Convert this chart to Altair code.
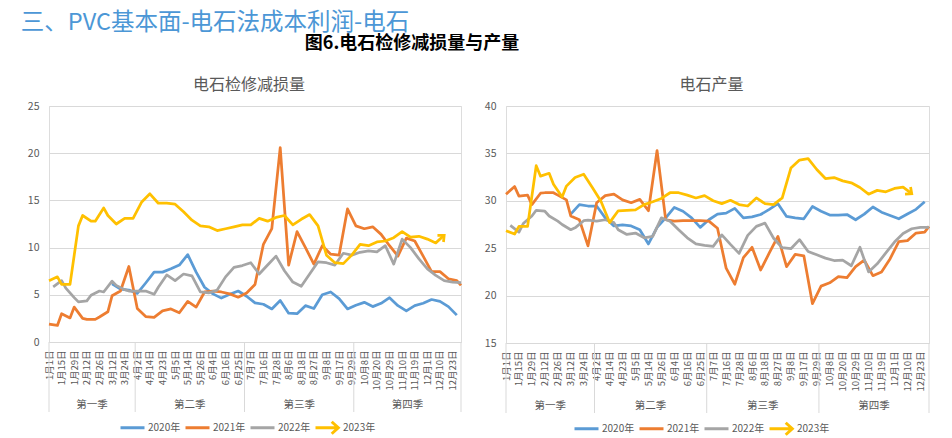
import altair as alt
import pandas as pd

# ---------------- data ----------------
DATE_LABELS = ["1月1日", "1月15日", "1月29日", "2月12日", "2月26日", "3月12日", "3月24日",
               "4月2日", "4月14日", "4月23日", "5月5日", "5月14日", "5月26日", "6月4日", "6月16日", "6月25日",
               "7月7日", "7月16日", "7月28日", "8月6日", "8月18日", "8月27日", "9月8日", "9月17日", "9月29日",
               "10月8日", "10月20日", "10月29日", "11月10日", "11月19日", "12月1日", "12月10日", "12月23日"]
QUARTERS = ["第一季", "第二季", "第三季", "第四季"]
QUARTER_CENTER = [10.25, 33.5, 59.5, 85.25]          # category positions
QUARTER_BOUNDS = [0, 20.5, 46.5, 72.5, 98]
YEARS = ["2020年", "2021年", "2022年", "2023年"]

# category index (on the shared category axis) of each observation
CAT_2020 = [15, 17, 19, 21, 23, 25, 27, 29, 31, 33, 35, 37, 39, 41, 43, 45, 47, 49, 51, 53, 55,
            57, 59, 61, 63, 65, 67, 69, 71, 73, 75, 77, 79, 81, 83, 85, 87, 89, 91, 93, 95, 97]
CAT_2021 = [0, 2, 3, 5, 6, 8, 9, 11, 12, 14, 15, 17, 19,
            21, 23, 25, 27, 29, 31, 33, 35, 37, 39, 41, 43, 45, 47, 49, 51, 53, 55, 57, 59,
            61, 63, 65, 67, 69, 71, 73, 75, 77, 79, 81, 83, 85, 87, 89, 91, 93, 95, 97, 98]
CAT_2022 = [1, 3, 4, 6, 7, 9, 10, 12, 13, 15, 16, 18, 19, 21, 23, 25,
            26, 28, 30, 32, 34, 36, 38, 40, 42, 44, 46, 48, 50, 52, 54, 56, 58, 60, 62,
            64, 66, 68, 70, 72, 74, 76, 78, 80, 82, 84, 86, 88, 90, 92, 94, 96, 98]
CAT_2023 = [0, 2, 3, 5, 7, 8, 10, 11, 13, 14, 16,
            18, 20, 22, 24, 26, 28, 30, 32, 34, 36, 38, 40, 42, 44, 46, 48, 50, 52, 54, 56,
            58, 60, 62, 64, 66, 68, 70, 72, 74, 76, 78, 80, 82, 84, 86, 88, 90, 92, 94]

# 电石检修减损量
LOSS_2020 = [6.15, 5.6, 5.5, 5.15, 6.25, 7.4, 7.4, 7.75, 8.15, 9.25, 7.4, 5.8, 5.1, 4.65, 5.05, 5.4,
             4.85, 4.15, 4.0, 3.5, 4.4, 3.05, 3.0, 3.85, 3.55, 5.0, 5.3, 4.6, 3.5, 3.9, 4.2, 3.75,
             4.1, 4.7, 3.85, 3.3, 3.85, 4.1, 4.5, 4.3, 3.75, 2.85]
LOSS_2021 = [1.9, 1.75, 3.0, 2.55, 3.7, 2.5, 2.4, 2.4, 2.65, 3.2, 4.9, 5.4, 8.0,
             3.55, 2.7, 2.6, 3.3, 3.5, 3.1, 4.3, 3.7, 5.3, 5.4, 5.3, 5.1, 4.75, 5.2, 6.1, 10.35,
             12.0, 20.6, 8.15, 11.7, 10.0, 8.25, 10.2, 9.3, 9.2, 14.1, 12.3, 12.0, 12.2, 11.4,
             10.2, 9.1, 11.0, 10.7, 9.1, 7.45, 7.45, 6.7, 6.5, 6.0]
LOSS_2022 = [5.85, 6.5, 5.7, 4.7, 4.25, 4.35, 4.95, 5.4, 5.3, 6.45, 6.0, 5.55, 5.4, 5.4, 5.4, 5.05,
             5.8, 7.1, 6.5, 7.2, 7.0, 5.3, 5.2, 5.5, 6.9, 7.9, 8.1, 8.4, 7.2, 8.15, 9.1, 7.55, 6.35,
             5.9, 7.2, 8.5, 8.4, 8.15, 9.4, 9.2, 9.5, 9.65, 9.55, 10.2, 8.25, 10.9, 10.0, 8.8,
             7.75, 7.05, 6.5, 6.35, 6.3]
LOSS_2023 = [6.5, 6.9, 6.1, 6.1, 12.3, 13.4, 12.8, 12.8, 14.2, 13.4, 12.5,
             13.1, 13.1, 14.8, 15.7, 14.7, 14.7, 14.6, 13.8, 12.9, 12.3, 12.2, 11.8, 12.0, 12.2,
             12.4, 12.4, 13.1, 12.8, 13.2, 13.4, 12.4, 13.0, 13.5, 12.3, 9.2, 8.4, 8.3, 9.2,
             10.35, 10.2, 10.6, 10.7, 11.05, 11.7, 11.1, 11.2, 10.9, 10.5, 11.3]

# 电石产量
PROD_2020 = [28.6, 29.6, 29.45, 29.45, 28.2, 27.35, 27.45, 27.35, 26.95, 25.45, 27.2, 28.2, 29.3,
             28.9, 28.2, 27.2, 28.0, 28.6, 28.7, 29.2, 28.2, 28.3, 28.55, 29.1, 29.7, 28.35, 28.2,
             28.1, 29.4, 28.9, 28.5, 28.5, 28.55, 28.0, 28.6, 29.35, 28.8, 28.45, 28.1, 28.6,
             29.1, 29.9]
PROD_2021 = [30.7, 31.5, 30.5, 30.6, 29.6, 30.8, 30.85, 30.85, 30.6, 30.1, 28.4, 28.0, 25.25,
             29.8, 30.55, 30.7, 30.1, 29.8, 30.15, 28.95, 35.3, 28.0, 27.85, 27.9, 27.9, 27.9,
             27.85, 27.1, 22.9, 21.2, 24.0, 25.1, 22.7, 24.5, 26.25, 23.05, 24.35, 24.2, 19.15,
             21.0, 21.35, 22.0, 21.9, 23.05, 23.75, 22.1, 22.5, 23.9, 25.7, 25.8, 26.6, 26.7, 27.3]
PROD_2022 = [27.4, 26.7, 27.6, 28.4, 29.0, 28.9, 28.4, 27.85, 27.5, 26.95, 27.15, 27.9, 27.95,
             27.85, 28.0, 27.7, 26.95, 26.45, 26.6, 26.1, 26.25, 28.2, 27.85, 26.95, 26.1, 25.45,
             25.3, 25.2, 26.4, 25.4, 24.45, 26.35, 27.3, 27.65, 26.05, 25.05, 24.95, 25.9, 24.65,
             24.3, 23.95, 23.7, 23.75, 23.15, 25.1, 22.5, 23.35, 24.5, 25.65, 26.55, 27.05, 27.2,
             27.2]
PROD_2023 = [26.85, 26.5, 27.3, 27.3, 33.7, 32.6, 32.9, 31.75, 30.4, 31.55, 32.45,
             32.8, 31.4, 29.95, 27.7, 28.95, 29.0, 29.05, 29.6, 29.9, 30.25, 30.85, 30.85, 30.6,
             30.3, 30.55, 30.0, 29.7, 30.05, 29.6, 29.45, 30.3, 29.7, 29.6, 30.3, 33.45, 34.3,
             34.45, 33.3, 32.35, 32.45, 32.1, 31.9, 31.4, 30.7, 31.1, 30.95, 31.3, 31.45, 30.75]

# ---------------- styling ----------------
FONT = "Noto Sans CJK SC"
GRID = "#D9D9D9"
TXT = "#595959"
COLORS = ["#5B9BD5", "#ED7D31", "#A5A5A5", "#FFC000"]
LINE_SYM = "M-1,0L1,0M-1,-0.5L-1,-0.5M-1,0.5L-1,0.5"
ARROW_SYM = "M-1,0L0.85,0M0.35,-0.5L0.9,0L0.35,0.5"
ARROW_HEAD = "M-1,-0.9L0,0L-1,0.9"

CATS = [CAT_2020, CAT_2021, CAT_2022, CAT_2023]
LABEL_POS = [3 * k for k in range(len(DATE_LABELS))]
LABEL_EXPR = "[" + ",".join("'%s'" % s for s in DATE_LABELS) + "][round(datum.value / 3)]"


def long_df(vals_list):
    rows = []
    for year, cats, vals in zip(YEARS, CATS, vals_list):
        for c, v in zip(cats, vals):
            rows.append({"cat": c, "value": v, "year": year})
    return pd.DataFrame(rows)


def panel(title, vals_list, ydom, width, height, arrow_angle, legend_x, title_dx):
    df = long_df(vals_list)
    last = pd.DataFrame({"cat": [CAT_2023[-1]], "value": [vals_list[3][-1]]})
    quarters = pd.DataFrame({"cat": QUARTER_CENTER, "q": QUARTERS})
    bounds = pd.DataFrame({"cat": QUARTER_BOUNDS})

    x = alt.X("cat:Q",
              scale=alt.Scale(domain=[0, 98], nice=False, zero=False),
              axis=alt.Axis(values=LABEL_POS, labelExpr=LABEL_EXPR, labelAngle=270,
                            labelAlign="right", labelBaseline="middle", labelFontSize=9.5,
                            labelColor=TXT, labelFont=FONT, labelPadding=8, ticks=False,
                            domain=True, domainColor=GRID, grid=False, title=None,
                            labelFlush=False, labelOverlap=False))
    yvals = list(range(ydom[0], ydom[1] + 1, 5))
    y = alt.Y("value:Q",
              scale=alt.Scale(domain=ydom, nice=False, zero=False),
              axis=alt.Axis(values=yvals, grid=True, gridColor=GRID, domain=False, ticks=False,
                            title=None, labelFontSize=10.5, labelColor=TXT, labelFont=FONT,
                            labelPadding=10))
    leg = alt.Legend(orient="none", legendX=legend_x, legendY=height + 72, direction="horizontal",
                     title=None, labelFontSize=10, labelColor=TXT, labelFont=FONT,
                     symbolSize=576, symbolStrokeWidth=3, labelOffset=2, columnPadding=-2,
                     symbolFillColor="transparent")
    color = alt.Color("year:N", scale=alt.Scale(domain=YEARS, range=COLORS), legend=leg)
    shape = alt.Shape("year:N", scale=alt.Scale(domain=YEARS,
                                                range=[LINE_SYM, LINE_SYM, LINE_SYM, ARROW_SYM]),
                      legend=leg)

    seps = alt.Chart(bounds).mark_rule(color=GRID, strokeWidth=1).encode(
        x=x, y=alt.value(height), y2=alt.value(height + 70))
    qtext = alt.Chart(quarters).mark_text(font=FONT, fontSize=10.5, color=TXT,
                                          baseline="middle").encode(
        x=x, y=alt.value(height + 63), text="q:N")
    lines = alt.Chart(df).mark_line(strokeWidth=2.75, strokeJoin="round").encode(
        x=x, y=y, color=color)
    legend_pts = alt.Chart(df).transform_filter("datum.cat < 0").mark_point(
        filled=False, strokeWidth=3, opacity=1).encode(x=x, y=y, color=color, shape=shape)
    arrow = alt.Chart(last).mark_point(shape=ARROW_HEAD, angle=arrow_angle, filled=False,
                                       strokeWidth=2.75, size=100, color=COLORS[3],
                                       opacity=1, strokeJoin="miter").encode(x=x, y=y)
    return alt.layer(seps, qtext, lines, legend_pts, arrow).properties(
        width=width, height=height,
        title=alt.TitleParams(title, fontSize=16, font=FONT, color=TXT, fontWeight="normal",
                              offset=8, anchor="middle", dx=title_dx))


left = panel("电石检修减损量", [LOSS_2020, LOSS_2021, LOSS_2022, LOSS_2023], [0, 25],
             412, 236, 318, 70, -6)
right = panel("电石产量", [PROD_2020, PROD_2021, PROD_2022, PROD_2023], [15, 40],
              423, 237, 38, 67, -6)

inner = alt.hconcat(left, right, spacing=20,
                    title=alt.TitleParams("图6.电石检修减损量与产量", anchor="start", dx=278,
                                          fontSize=18, fontWeight="bold", font=FONT,
                                          color="#000000", offset=24)
                    ).resolve_scale(color="independent", shape="independent", x="independent",
                                    y="independent")

chart = alt.vconcat(inner, title=alt.TitleParams(
    "三、PVC基本面-电石法成本利润-电石", anchor="start", fontSize=23.5, font=FONT,
    fontWeight="normal", color="#4C97D6", offset=0, dx=-6)
).properties(padding={"left": 12, "top": 3, "right": 0, "bottom": 0}
).configure_view(stroke=None).configure(background="white")

chart.save("out.html", embed_options={"renderer": "svg", "actions": False})
